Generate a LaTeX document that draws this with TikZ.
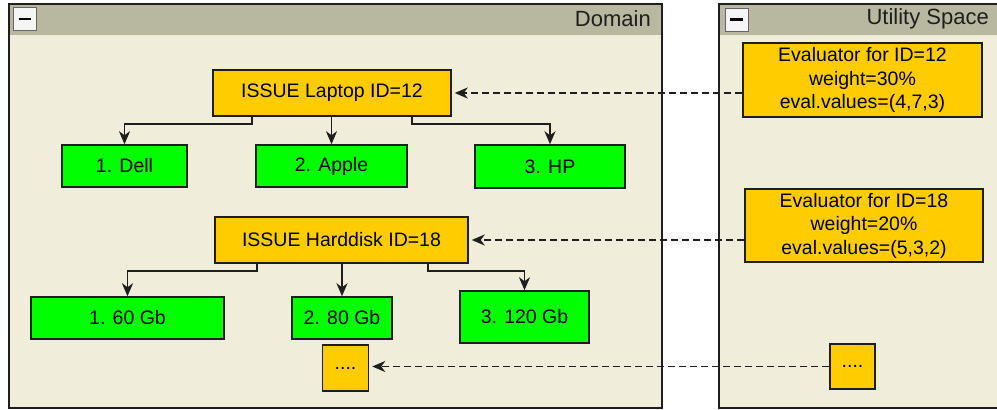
\documentclass[tikz,border=0pt]{standalone}
\usepackage{fontspec}
\setmainfont{Liberation Sans}
\usetikzlibrary{arrows.meta}
\definecolor{issuecol}{RGB}{255,204,0}
\definecolor{valuecol}{RGB}{0,255,0}
\definecolor{panelbg}{RGB}{240,237,218}
\definecolor{headbg}{RGB}{184,183,160}
\definecolor{edgecol}{RGB}{30,30,30}
\tikzset{every node/.style={font=\fontsize{19.5}{23.5}\selectfont, inner sep=0pt},
  issue/.style={draw=edgecol, fill=issuecol, line width=1.5pt},
  value/.style={draw=edgecol, fill=valuecol, line width=1.5pt, minimum height=42pt},
  evaluator/.style={issue, align=center, minimum width=239pt, minimum height=74pt},
  title/.style={anchor=east, font=\fontsize{22}{24}\selectfont, text=edgecol},
  minusbtn/.style={draw=gray!80!black, fill=gray!8, line width=0.8pt, minimum size=23pt},
  tree/.style={-{Stealth[length=13pt,width=11pt,inset=4pt]}, line width=1.6pt, edgecol},
  link/.style={tree, dash pattern=on 7pt off 4pt, shorten >=3pt}}

\begin{document}
\begin{tikzpicture}[x=1pt,y=-1pt]
   \clip (0,0) rectangle (997,410);
   \fill[white] (0,0) rectangle (997,410);
   \begin{scope}
    \fill[panelbg] (9,4) rectangle (662,408);
    \fill[headbg] (9,4) rectangle (662,35);
    \draw[edgecol,line width=1.6pt] (9,4) rectangle (662,408);
    \node[minusbtn] (domainmin) at (25,19) {\rule{13pt}{2.8pt}};
    \node[title] (domaintitle) at (651,19) {Domain};
   \end{scope}
   \begin{scope}
    \fill[panelbg] (719,4) rectangle (1010,408);
    \fill[headbg] (719,4) rectangle (1010,35);
    \draw[edgecol,line width=1.6pt] (719,4) rectangle (1010,408);
    \node[minusbtn] (utilmin) at (736.5,19.5) {\rule{13pt}{2.8pt}};
    \node[title] (utiltitle) at (989,19) {Utility Space};
   \end{scope}

   \node[issue, minimum width=238pt, minimum height=46pt] (laptop) at (332,93) {ISSUE Laptop ID=12};
   \node[value, minimum width=125pt] (dell) at (124.5,166) {1. Dell};
   \node[value, minimum width=151pt] (apple) at (331.5,166) {2. Apple};
   \node[value, minimum width=150pt, minimum height=43pt] (hp) at (550,166.5) {3. HP};

   \node[issue, minimum width=253pt, minimum height=46pt] (harddisk) at (341.5,240) {ISSUE Harddisk ID=18};
   \node[value, minimum width=193pt] (gb60) at (127.5,318) {1. 60 Gb};
   \node[value, minimum width=100pt] (gb80) at (342,318) {2. 80 Gb};
   \node[value, minimum width=129pt, minimum height=52pt] (gb120) at (524.5,317) {3. 120 Gb};
   \node[issue, minimum size=46pt] (moreissue) at (345.5,368) {....};

   \node[evaluator] (eval12) at (862.5,80) {Evaluator for ID=12\\weight=30\%\\eval.values=(4,7,3)};
   \node[evaluator, minimum width=238pt, minimum height=73pt] (eval18) at (864,225.5) {Evaluator for ID=18\\weight=20\%\\eval.values=(5,3,2)};
   \node[issue, minimum size=45pt] (moreeval) at (852.5,366.5) {....};

   \draw[tree] ([xshift=40pt]laptop.south west) -- ++(0,7) -| (dell.north);
   \draw[tree] (laptop.south -| apple.north) -- (apple.north);
   \draw[tree] ([xshift=-40pt]laptop.south east) -- ++(0,7) -| (hp.north);
   \draw[tree] ([xshift=43pt]harddisk.south west) -- ++(0,7) -| (gb60.north);
   \draw[tree] (harddisk.south -| gb80.north) -- (gb80.north);
   \draw[tree] ([xshift=-41pt]harddisk.south east) -- ++(0,7) -| (gb120.north);

   \draw[link] (eval12.west |- laptop.east) -- (laptop.east);
   \draw[link] (eval18.west |- harddisk.east) -- (harddisk.east);
   \draw[link] (moreeval.west) -- (moreeval.west -| moreissue.east);
  \end{tikzpicture}
\end{document}
